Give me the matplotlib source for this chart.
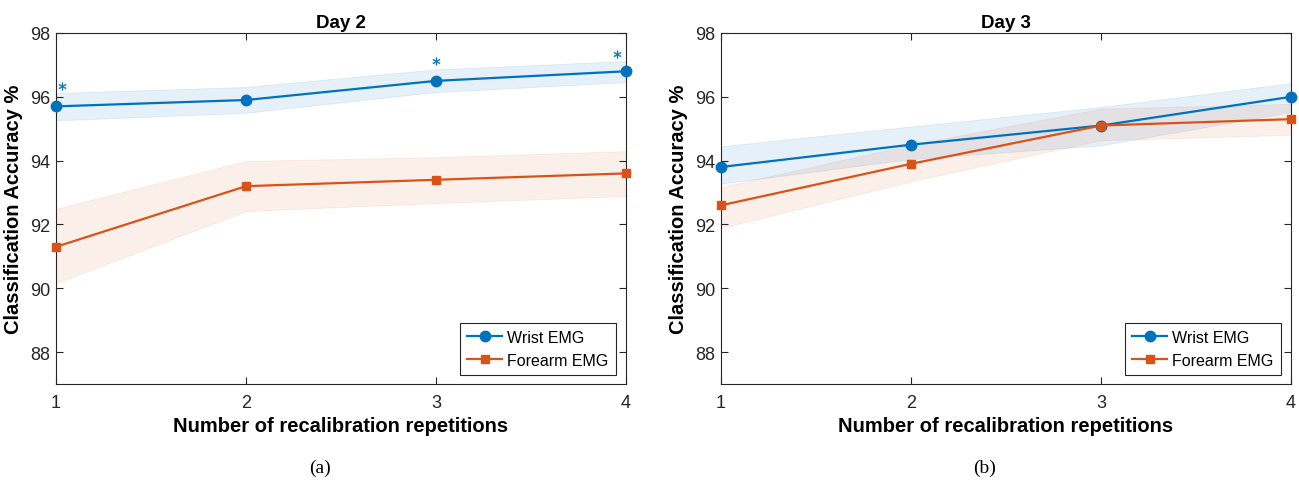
import matplotlib
matplotlib.use("Agg")
import matplotlib.pyplot as plt
import numpy as np

plt.rcParams['font.family'] = ['Liberation Sans', 'DejaVu Sans']

reps = [1, 2, 3, 4]

# Day 2
d2_wrist = [95.7, 95.9, 96.5, 96.8]
d2_wrist_hi = [96.12, 96.31, 96.86, 97.12]
d2_wrist_lo = [95.26, 95.5, 96.15, 96.46]
d2_fore = [91.3, 93.2, 93.4, 93.6]
d2_fore_hi = [92.49, 93.99, 94.11, 94.3]
d2_fore_lo = [90.16, 92.42, 92.67, 92.89]
d2_star_x = [1.03, 3.0, 3.95]
d2_star_y = [96.34, 97.12, 97.35]

# Day 3
d3_wrist = [93.8, 94.5, 95.1, 96.0]
d3_wrist_hi = [94.45, 95.07, 95.68, 96.43]
d3_wrist_lo = [93.28, 94.05, 94.48, 95.52]
d3_fore = [92.6, 93.9, 95.1, 95.3]
d3_fore_hi = [93.17, 94.5, 95.63, 95.78]
d3_fore_lo = [91.89, 93.35, 94.64, 94.81]

blue = '#0072BD'
orange = '#D95319'
dark = '#262626'

fig = plt.figure(figsize=(12.99, 4.81), dpi=100)
ax1 = fig.add_axes([56/1299, 1-385/481, 570/1299, 351/481])
ax2 = fig.add_axes([721/1299, 1-385/481, 570/1299, 351/481])

panels = [
    (ax1, "Day 2", "(a)", d2_wrist, d2_wrist_lo, d2_wrist_hi, d2_fore, d2_fore_lo, d2_fore_hi),
    (ax2, "Day 3", "(b)", d3_wrist, d3_wrist_lo, d3_wrist_hi, d3_fore, d3_fore_lo, d3_fore_hi),
]

for ax, title, cap, w, wlo, whi, f, flo, fhi in panels:
    ax.fill_between(reps, wlo, whi, color=blue, alpha=0.1, lw=0.6)
    ax.fill_between(reps, flo, fhi, color=orange, alpha=0.09, lw=0.6)
    ax.plot(reps, w, '-o', color=blue, lw=1.6, ms=7.5, label='Wrist EMG', clip_on=False, zorder=3)
    ax.plot(reps, f, '-s', color=orange, lw=1.6, ms=6, label='Forearm EMG', clip_on=False, zorder=3)
    ax.set_xlim(1, 4)
    ax.set_ylim(87, 98)
    ax.set_xticks(reps)
    ax.set_yticks([88, 90, 92, 94, 96, 98])
    ax.tick_params(direction='in', top=True, right=True, length=5, width=0.8,
                   labelsize=13, colors=dark)
    ax.tick_params(axis='x', pad=7)
    ax.tick_params(axis='y', pad=4)
    for s in ax.spines.values():
        s.set_color(dark)
        s.set_linewidth(0.8)
    ax.set_title(title, fontsize=13.5, fontweight='bold', pad=4)
    ax.set_xlabel('Number of recalibration repetitions', fontsize=14.5, fontweight='bold', labelpad=4)
    ax.set_ylabel('Classification Accuracy %', fontsize=14.5, fontweight='bold', labelpad=5)
    leg = ax.legend(loc='lower right', fontsize=11.5, fancybox=False, framealpha=1,
                    edgecolor=dark, borderpad=0.45, handlelength=2.2, handletextpad=0.3,
                    labelspacing=0.5, borderaxespad=0, bbox_to_anchor=(0.982, 0.026))
    leg.get_frame().set_linewidth(0.8)
    bb = ax.get_position()
    fig.text(bb.x0 + bb.width/2 - 21/1299, 1-468/481, cap, ha='center', va='center',
             fontsize=14, family='Liberation Serif')

ax1.plot(d2_star_x, d2_star_y, marker='$*$', color=blue, ms=5.5, mew=0.3, linestyle='none')

fig.savefig('out.png', dpi=100)
